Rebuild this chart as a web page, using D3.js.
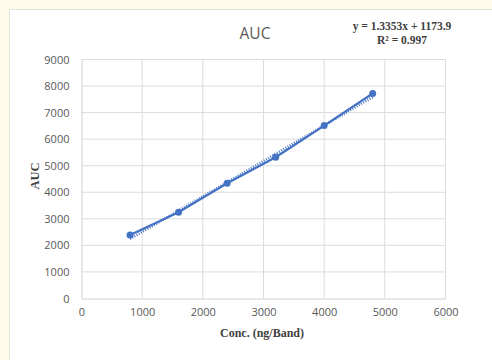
<!DOCTYPE html>
<html>
<head>
<meta charset="utf-8">
<script src="https://cdn.jsdelivr.net/npm/d3@7/dist/d3.min.js"></script>
<style>
body { margin: 0; background: #fffbe9; }
svg { display: block; }
.tick text { font-family: "Open Sans", "Noto Sans", sans-serif; font-size: 11px; fill: #595959; }
.serif { font-family: "Liberation Serif", "DejaVu Serif", serif; font-weight: bold; fill: #404040; }
</style>
</head>
<body>
<svg id="chart" width="492" height="360"></svg>
<script>
// calibration points
var conc = [800, 1600, 2400, 3200, 4000, 4800];
var auc = [2390, 3250, 4340, 5320, 6510, 7720];
// trendline as printed on the chart
var slope = 1.3353, intercept = 1173.9;
var xTicks = [0, 1000, 2000, 3000, 4000, 5000, 6000];
var yTicks = [0, 1000, 2000, 3000, 4000, 5000, 6000, 7000, 8000, 9000];

var svg = d3.select("#chart");

// white chart panel
svg.append("rect")
	.attr("x", 9.5).attr("y", 9.5)
	.attr("width", 500).attr("height", 370)
	.style("fill", "#ffffff")
	.style("stroke", "#e2e2e2");

var margin = {left: 81.5, right: 46.5, top: 59.5, bottom: 61.5},
	x = d3.scaleLinear().domain([0, 6000]).range([margin.left, 492 - margin.right]),
	y = d3.scaleLinear().domain([0, 9000]).range([360 - margin.bottom, margin.top]);

// gridlines
svg.append("g")
	.selectAll("line.gx")
	.data(xTicks.slice(1))
	.enter().append("line")
	.attr("x1", d => x(d)).attr("x2", d => x(d))
	.attr("y1", y(0)).attr("y2", y(9000))
	.style("stroke", "#dcdcdc");
svg.append("g")
	.selectAll("line.gy")
	.data(yTicks.slice(1))
	.enter().append("line")
	.attr("x1", x(0)).attr("x2", x(6000))
	.attr("y1", d => y(d)).attr("y2", d => y(d))
	.style("stroke", "#dcdcdc");

// axes
var xAxis = svg.append("g")
	.attr("transform", "translate(0," + y(0) + ")")
	.call(d3.axisBottom(x).tickValues(xTicks).tickSize(0).tickPadding(10).tickFormat(d3.format("d")));
xAxis.select(".domain").style("stroke", "#d0d0d0");

var yAxis = svg.append("g")
	.attr("transform", "translate(" + x(0) + ",0)")
	.call(d3.axisLeft(y).tickValues(yTicks).tickSize(0).tickPadding(12).tickFormat(d3.format("d")));
yAxis.select(".domain").style("stroke", "#d0d0d0");

// trendline (dotted)
var tx = [d3.min(conc), d3.max(conc)];
svg.append("line")
	.attr("x1", x(tx[0])).attr("y1", y(slope * tx[0] + intercept))
	.attr("x2", x(tx[1])).attr("y2", y(slope * tx[1] + intercept))
	.style("stroke", "#4472c4")
	.style("stroke-width", 2.5)
	.style("stroke-dasharray", "1,1.5");

// series line + markers
var pts = conc.map((c, i) => [c, auc[i]]);
svg.append("path")
	.datum(pts)
	.attr("d", d3.line().x(d => x(d[0])).y(d => y(d[1])))
	.style("fill", "none")
	.style("stroke", "#4472c4")
	.style("stroke-width", 2.25);
svg.selectAll("circle.pt")
	.data(pts)
	.enter().append("circle")
	.attr("class", "pt")
	.attr("cx", d => x(d[0])).attr("cy", d => y(d[1]))
	.attr("r", 3.5)
	.style("fill", "#4472c4");

// titles
svg.append("text")
	.attr("x", 255).attr("y", 39)
	.attr("text-anchor", "middle")
	.style("font-family", "'Open Sans', 'Noto Sans', sans-serif")
	.style("font-size", "15.5px")
	.style("fill", "#595959")
	.text("AUC");

svg.append("text").attr("class", "serif")
	.attr("x", 402).attr("y", 30)
	.attr("text-anchor", "middle")
	.style("font-size", "11.5px")
	.text("y = " + slope + "x + " + intercept);
svg.append("text").attr("class", "serif")
	.attr("x", 402).attr("y", 44)
	.attr("text-anchor", "middle")
	.style("font-size", "11.5px")
	.text("R² = 0.997");

svg.append("text").attr("class", "serif")
	.attr("transform", "translate(39,176) rotate(-90)")
	.attr("text-anchor", "middle")
	.style("font-size", "12.5px")
	.text("AUC");

svg.append("text").attr("class", "serif")
	.attr("x", 262).attr("y", 337)
	.attr("text-anchor", "middle")
	.style("font-size", "12px")
	.text("Conc. (ng/Band)");
</script>
</body>
</html>
